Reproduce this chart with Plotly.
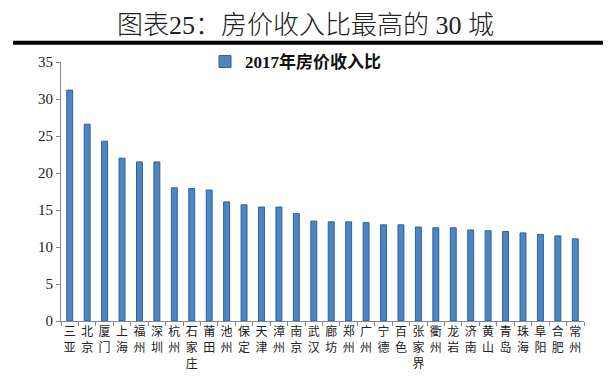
import plotly.graph_objects as go

cities = ["三亚", "北京", "厦门", "上海", "福州", "深圳", "杭州", "石家庄", "莆田", "池州",
          "保定", "天津", "漳州", "南京", "武汉", "廊坊", "郑州", "广州", "宁德", "百色",
          "张家界", "衢州", "龙岩", "济南", "黄山", "青岛", "珠海", "阜阳", "合肥", "常州"]
ratio_2017 = [31.2, 26.6, 24.3, 22.0, 21.5, 21.5, 18.0, 17.9, 17.7, 16.1,
              15.7, 15.4, 15.4, 14.5, 13.5, 13.4, 13.4, 13.3, 13.0, 13.0,
              12.7, 12.6, 12.6, 12.3, 12.2, 12.1, 11.9, 11.7, 11.5, 11.1]
series_name = "2017年房价收入比"
title_text = "图表25：房价收入比最高的 30 城"
y_ticks = [0, 5, 10, 15, 20, 25, 30, 35]

W, H = 611, 384
ML, MR, MT, MB = 53, 35, 54, 71
pw = W - ML - MR
ph = H - MT - MB

def px_to_paper_x(px):
    return (px - ML) / pw

def px_to_paper_y(py):
    return (H - MB - py) / ph

labels = ["<br>".join(list(c)) for c in cities]

fig = go.Figure()
fig.add_trace(go.Bar(
    x=labels, y=ratio_2017, name="<b>" + series_name + "</b>",
    marker=dict(color="#4F85C2", line=dict(color="#2F5F98", width=1)),
    width=0.34, showlegend=True,
))

fig.update_layout(
    width=W, height=H,
    margin=dict(l=ML, r=MR, t=MT, b=MB, pad=0),
    paper_bgcolor="white", plot_bgcolor="white",
    font=dict(family="Liberation Serif, Noto Sans CJK SC", color="#222"),
    showlegend=True,
    legend=dict(x=px_to_paper_x(197), y=px_to_paper_y(36), xanchor="left", yanchor="top",
                bgcolor="rgba(0,0,0,0)",
                font=dict(family="Liberation Serif, Noto Sans CJK SC", size=17, color="#111"),
                itemwidth=30),
    xaxis=dict(
        type="category", showline=True, linecolor="#888", linewidth=1,
        ticks="outside", ticklen=4, tickcolor="#888", tickson="boundaries",
        tickfont=dict(family="Noto Sans CJK SC", size=12, color="#222"),
        tickangle=0, showgrid=False, range=[-0.5, 29.5],
    ),
    yaxis=dict(
        range=[0, 35], tickvals=y_ticks, showline=True, linecolor="#888", linewidth=1,
        ticks="outside", ticklen=4, tickcolor="#888", showgrid=False, zeroline=False,
        tickfont=dict(family="Liberation Serif", size=15, color="#222"),
    ),
)

fig.add_annotation(
    text=title_text, xref="paper", yref="paper",
    x=px_to_paper_x(297), y=px_to_paper_y(17), xanchor="center", yanchor="middle",
    showarrow=False,
    font=dict(family="Liberation Serif, Noto Sans CJK SC", size=26, color="#222", weight=300),
)
fig.add_shape(
    type="line", xref="paper", yref="paper",
    x0=px_to_paper_x(5), x1=px_to_paper_x(605),
    y0=px_to_paper_y(34.7), y1=px_to_paper_y(34.7),
    line=dict(color="black", width=4),
)

fig.write_html("out.html")
